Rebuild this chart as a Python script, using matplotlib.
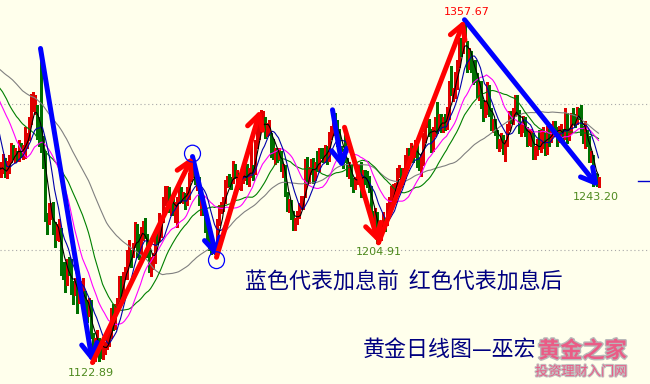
import numpy as np
import pandas as pd
import matplotlib
matplotlib.use('Agg')
import matplotlib.pyplot as plt
import matplotlib.patheffects as pe
from matplotlib.patches import Ellipse

# closes before the first visible bar (only feed the moving averages)
warm_close = [1317, 1330, 1323, 1318, 1320, 1340, 1332, 1350,
              1352, 1366, 1356, 1362, 1335, 1337, 1340, 1345, 1337, 1335,
              1339, 1349, 1348, 1350, 1341, 1337, 1340, 1325, 1325, 1320,
              1318, 1310, 1308, 1313, 1325, 1327, 1350, 1348, 1335, 1328,
              1328, 1318, 1323, 1316, 1310, 1314, 1316, 1333, 1336, 1338,
              1338, 1326, 1322, 1320, 1316, 1313, 1268, 1268, 1253, 1257,
              1259, 1253]

# daily XAUUSD, Oct 12 2016 .. Dec 12 2017
high = [
    1260, 1266, 1263, 1261, 1265, 1273, 1272, 1270, 1268, 1275, 1273, 1272, 1284, 1280,
    1291, 1307, 1308, 1306, 1299, 1291, 1338, 1278, 1268, 1225, 1232, 1232, 1233, 1219, 1218, 1221, 1215, 1192, 1192, 1194, 1195, 1194,
    1179, 1181, 1180, 1176, 1179, 1181, 1172, 1166, 1167, 1166, 1143, 1140, 1145, 1140, 1138, 1135, 1137, 1143, 1144, 1160, 1163,
    1163, 1167, 1182, 1182, 1185, 1188, 1200, 1207, 1200, 1205, 1219, 1218, 1211, 1216, 1220, 1222, 1211, 1200, 1195, 1198, 1213,
    1213, 1225, 1223, 1236, 1244, 1244, 1243, 1236, 1236, 1233, 1236, 1245, 1243, 1240, 1239, 1243, 1253, 1259, 1264, 1255,
    1253, 1250, 1240, 1237, 1228, 1218, 1210, 1209, 1206, 1205, 1221, 1231, 1233, 1236, 1248, 1251, 1252, 1250, 1261, 1259, 1255, 1253, 1253,
    1257, 1258, 1259, 1256, 1273, 1258, 1275, 1285, 1289, 1296, 1295, 1291, 1287, 1289, 1280, 1276, 1270, 1270, 1270,
    1268, 1259, 1258, 1240, 1235, 1234, 1227, 1222, 1227, 1232, 1237, 1237, 1262, 1264, 1257, 1262, 1263, 1260, 1268, 1270, 1270, 1270, 1272,
    1271, 1281, 1285, 1296, 1294, 1289, 1283, 1271, 1269, 1284, 1263, 1260, 1259, 1249, 1250, 1256, 1258, 1260, 1255, 1255, 1254, 1251,
    1244, 1227, 1229, 1226, 1215, 1219, 1226, 1222, 1232, 1236, 1244, 1245, 1246, 1256, 1258, 1256, 1256, 1265, 1270, 1270,
    1273, 1271, 1275, 1275, 1263, 1265, 1280, 1286, 1291, 1290, 1283, 1284, 1291, 1301, 1293, 1293, 1291, 1293, 1298, 1316, 1326, 1311, 1322,
    1330, 1345, 1345, 1351, 1357.67, 1343, 1338, 1336, 1329, 1330, 1321, 1315, 1316, 1303, 1302, 1315, 1313, 1297, 1290, 1290,
    1282, 1276, 1280, 1279, 1275, 1286, 1295, 1295, 1297, 1306, 1306, 1296, 1286, 1292, 1291, 1284, 1283, 1283, 1280, 1271, 1276, 1282,
    1282, 1284, 1280, 1285, 1283, 1286, 1288, 1288, 1284, 1285, 1286, 1283, 1297, 1294, 1283, 1294, 1297, 1293, 1298, 1297, 1299, 1285,
    1288, 1282, 1278, 1268, 1265, 1253, 1252, 1250,
]
low = [
    1250, 1253, 1250, 1249, 1253, 1260, 1262, 1260, 1261, 1261, 1264, 1262, 1263, 1270,
    1275, 1286, 1295, 1293, 1276, 1271, 1267, 1256, 1220, 1211, 1218, 1221, 1211, 1202, 1207, 1206, 1183, 1180, 1171, 1176, 1183, 1170,
    1163, 1169, 1157, 1164, 1165, 1168, 1156, 1151, 1155, 1140, 1122.89, 1124, 1133, 1124, 1126, 1125, 1129, 1132, 1134, 1140, 1145,
    1146, 1158, 1162, 1165, 1170, 1180, 1180, 1190, 1188, 1195, 1202, 1195, 1194, 1197, 1207, 1208, 1195, 1185, 1182, 1187, 1191,
    1204, 1206, 1209, 1219, 1231, 1233, 1226, 1224, 1224, 1219, 1216, 1232, 1233, 1232, 1228, 1231, 1235, 1247, 1250, 1245,
    1241, 1231, 1224, 1224, 1212, 1205, 1200, 1197, 1198, 1197, 1195, 1217, 1225, 1227, 1232, 1243, 1244, 1242, 1246, 1249, 1246, 1242, 1241,
    1246, 1248, 1245, 1244, 1250, 1248, 1252, 1270, 1276, 1284, 1282, 1277, 1278, 1279, 1264, 1262, 1259, 1260, 1262,
    1254, 1250, 1237, 1227, 1226, 1221, 1214, 1214, 1218, 1222, 1228, 1228, 1236, 1245, 1246, 1252, 1246, 1248, 1254, 1254, 1263, 1260, 1260,
    1259, 1261, 1276, 1279, 1282, 1271, 1265, 1261, 1256, 1260, 1251, 1249, 1244, 1240, 1242, 1245, 1247, 1236, 1241, 1245, 1243, 1240,
    1219, 1215, 1216, 1205, 1204.91, 1207, 1213, 1213, 1217, 1227, 1232, 1236, 1233, 1244, 1250, 1243, 1245, 1249, 1258, 1265,
    1264, 1260, 1264, 1257, 1255, 1251, 1258, 1274, 1284, 1278, 1267, 1268, 1278, 1280, 1282, 1281, 1281, 1282, 1283, 1290, 1306, 1302, 1304,
    1310, 1325, 1333, 1335, 1343, 1322, 1324, 1322, 1314, 1315, 1305, 1303, 1297, 1288, 1291, 1293, 1292, 1282, 1281, 1279,
    1270, 1268, 1270, 1266, 1261, 1271, 1282, 1287, 1286, 1292, 1293, 1280, 1278, 1281, 1278, 1271, 1272, 1271, 1262, 1262, 1265, 1269,
    1267, 1270, 1265, 1266, 1271, 1274, 1278, 1278, 1271, 1274, 1276, 1273, 1276, 1273, 1275, 1280, 1287, 1284, 1286, 1290, 1279, 1273,
    1270, 1271, 1260, 1260, 1244, 1245, 1244, 1243.2,
]
close = [
    1255, 1257, 1251, 1254, 1262, 1269, 1266, 1267, 1263, 1273, 1267, 1268, 1276, 1277,
    1289, 1297, 1302, 1304, 1279, 1275, 1274, 1266, 1224, 1222, 1225, 1226, 1216, 1209, 1213, 1213, 1188, 1184, 1178, 1191, 1189, 1173,
    1170, 1177, 1170, 1171, 1171, 1171, 1160, 1158, 1159, 1142, 1129, 1137, 1140, 1132, 1131, 1131, 1133, 1139, 1141, 1158, 1151,
    1160, 1164, 1180, 1172, 1184, 1185, 1196, 1197, 1196, 1203, 1216, 1212, 1201, 1210, 1218, 1212, 1198, 1188, 1190, 1195, 1210,
    1209, 1216, 1220, 1233, 1236, 1241, 1228, 1234, 1226, 1228, 1233, 1239, 1235, 1237, 1236, 1238, 1250, 1257, 1253, 1249,
    1249, 1234, 1234, 1226, 1216, 1209, 1203, 1201, 1204, 1199, 1219, 1227, 1229, 1234, 1245, 1249, 1246, 1244, 1255, 1252, 1252, 1244, 1248,
    1253, 1256, 1248, 1252, 1254, 1253, 1274, 1284, 1286, 1290, 1290, 1281, 1283, 1285, 1276, 1264, 1267, 1264, 1268,
    1255, 1256, 1239, 1228, 1228, 1226, 1216, 1220, 1224, 1228, 1230, 1236, 1258, 1252, 1254, 1261, 1251, 1257, 1256, 1268, 1266, 1262, 1268,
    1263, 1279, 1280, 1293, 1287, 1279, 1271, 1266, 1265, 1262, 1255, 1255, 1246, 1243, 1246, 1250, 1256, 1245, 1250, 1249, 1245, 1242,
    1220, 1218, 1223, 1212, 1213, 1214, 1219, 1218, 1228, 1234, 1241, 1242, 1245, 1255, 1255, 1246, 1250, 1260, 1268, 1267,
    1270, 1267, 1273, 1264, 1258, 1262, 1278, 1285, 1289, 1281, 1270, 1280, 1288, 1284, 1291, 1284, 1288, 1287, 1291, 1314, 1309, 1309, 1320,
    1325, 1339, 1337, 1349, 1347, 1328, 1331, 1330, 1322, 1320, 1307, 1310, 1302, 1292, 1297, 1310, 1294, 1285, 1287, 1280,
    1272, 1273, 1276, 1268, 1274, 1284, 1292, 1288, 1294, 1303, 1295, 1282, 1283, 1290, 1280, 1276, 1277, 1277, 1266, 1266, 1275, 1271,
    1276, 1278, 1269, 1282, 1275, 1282, 1286, 1282, 1278, 1281, 1283, 1278, 1293, 1276, 1280, 1292, 1290, 1288, 1295, 1294, 1283, 1275,
    1280, 1275, 1262, 1264, 1251, 1248, 1246, 1247,
]

ma_periods = [5, 10, 20, 30, 60]
ma_colors = ['black', '#0000AA', '#FF00FF', '#008000', '#808080']

# bar index of each swing used by the arrows
NOV9, DEC15, FEB27, MAR15, APR17 = 20, 46, 96, 108, 130
JUN6, JUN13, JUN14, JUL10, SEP8, DEC12 = 166, 171, 172, 189, 232, 299

BG = '#FFFFEC'
CJK = ['Noto Sans CJK SC', 'DejaVu Sans']

high = np.array(high, dtype=float)
low = np.array(low, dtype=float)
close = np.array(close, dtype=float)
n = len(close)
x = np.arange(n)
prev = np.concatenate([[warm_close[-1]], close[:-1]])

fig = plt.figure(figsize=(6.5, 3.84), dpi=100, facecolor=BG)
ax = fig.add_axes([0, 0, 1, 1], frameon=False)
ax.set_facecolor(BG)
ax.set_xlim(-0.25, 324.75)
ax.set_ylim(1108.2, 1371.2)
ax.set_xticks([])
ax.set_yticks([])

for lvl in (1200, 1300):
    ax.axhline(lvl, color='#A8A8A8', lw=0.8, ls=(0, (1, 2.5)), zorder=1)

cols = np.where(close >= prev, '#E00000', '#007000')
ax.vlines(x, low, high, colors=cols, lw=0.75, antialiased=False, zorder=2)

allc = pd.Series(warm_close + list(close))
xa = np.arange(-len(warm_close), n)
for p, c in zip(ma_periods[::-1], ma_colors[::-1]):
    ma = allc.rolling(p).mean()
    ax.plot(xa, ma, color=c, lw=0.8, zorder=3)

# current price marker
ax.plot([318.5, 325], [close[-1]] * 2, color='#0000CC', lw=1, zorder=3)


def arrow(i0, p0, i1, p1, c):
    ax.annotate('', xy=(i1, p1), xytext=(i0, p0),
                arrowprops=dict(arrowstyle='->,head_length=0.5,head_width=0.28',
                                color=c, lw=3.6, shrinkA=0, shrinkB=0,
                                mutation_scale=20), zorder=5)


blue = '#0000FF'
red = '#FF0000'
arrow(NOV9, high[NOV9], DEC15, low[DEC15], blue)
arrow(FEB27, high[FEB27], MAR15, low[MAR15], blue)
arrow(JUN6, high[JUN6], JUN13, low[JUN13], blue)
arrow(SEP8, high[SEP8], DEC12, low[DEC12], blue)
arrow(DEC15, low[DEC15], FEB27, high[FEB27], red)
arrow(MAR15, low[MAR15], APR17, high[APR17], red)
arrow(JUN14, high[JUN14], JUL10, low[JUL10], red)
arrow(JUL10, low[JUL10], SEP8, high[SEP8], red)

for i, p in ((FEB27, high[FEB27] + 2), (MAR15, low[MAR15] - 2)):
    ax.add_patch(Ellipse((i, p), 8, 11.5, fill=False, ec='#0000FF', lw=0.9, zorder=6))

lab = '#4E8A1E'
for i, v, dx, dy, c in ((DEC15, low[DEC15], -2, -10, lab),
                        (JUL10, low[JUL10], 0, -9, lab),
                        (DEC12, low[DEC12], -3, -10, lab),
                        (SEP8, high[SEP8], 2, 8, red)):
    ax.annotate(f'{v:.2f}', xy=(i, v), xytext=(dx, dy), textcoords='offset pixels',
                ha='center', va='center', fontsize=8, color=c, zorder=7)

fig.text(245 / 650, 1 - 283 / 384, '蓝色代表加息前  红色代表加息后', family=CJK,
         fontsize=15.8, color='#000080', ha='left', va='center')
fig.text(363 / 650, 1 - 350 / 384, '黄金日线图—巫宏', family=CJK,
         fontsize=15.8, color='#000080', ha='left', va='center')

fig.text(538 / 650, 1 - 351 / 384, '黄金之家', family=CJK, fontsize=16,
         color='#EA5C86', weight='bold', ha='left', va='center',
         path_effects=[pe.withStroke(linewidth=2, foreground='#B8B8B8')])
fig.text(535 / 650, 1 - 372 / 384, '投资理财入门网', family=CJK, fontsize=9.5,
         color='#EA5C86', ha='left', va='center',
         path_effects=[pe.withStroke(linewidth=1.5, foreground='#C0C0C0')])

fig.savefig('out.png', dpi=100, facecolor=BG)
